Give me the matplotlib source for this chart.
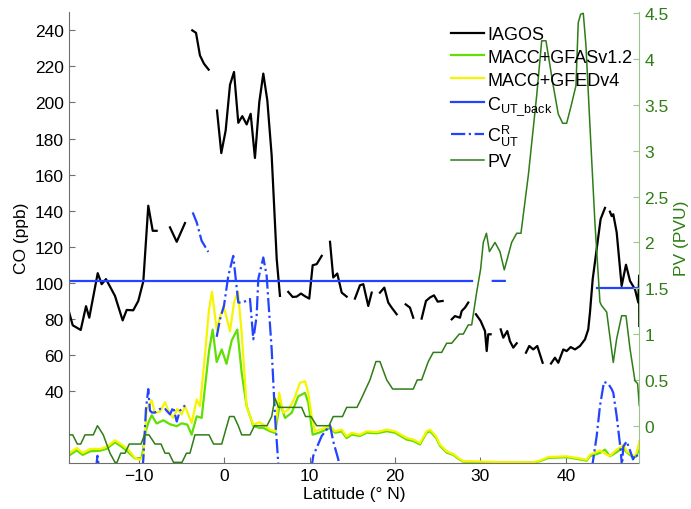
import numpy as np
import matplotlib
matplotlib.use('Agg')
import matplotlib.pyplot as plt
from matplotlib.ticker import FormatStrFormatter

plt.rcParams['font.family'] = ['Liberation Sans', 'DejaVu Sans']
plt.rcParams['mathtext.fontset'] = 'custom'
plt.rcParams['mathtext.rm'] = 'Liberation Sans'
plt.rcParams['mathtext.default'] = 'regular'

FS = 12.5
nan = np.nan

C_IAGOS = 'black'
C_GFAS = '#5fe000'
C_GFED = '#f5f500'
C_BLUE = '#2243ff'
C_PV = '#2e7d16'
C_PVAX = '#9dc48e'
C_GRAY = '#6e6e6e'

# IAGOS CO (ppb) along latitude, gaps where no data
iagos_lat = [-18.19, -17.75, -16.81, -16.19, -15.81, -14.82, -14.36, -13.85, -12.80, -11.90,
             -11.43, -10.66, -10.07, -9.48, -8.90, -8.38, -7.92, nan,
             -6.36, -5.57, -4.60, nan,
             -3.75, -3.31, -2.85, -2.38, -1.83, nan,
             -0.85, -0.35, 0.16, 0.67, 1.14, 1.64, 2.11, 2.62, 3.09, 3.59, 4.10, 4.57, 5.04,
             5.55, 6.14, 6.52, nan,
             7.49, 8.01, 8.48, 8.98, 9.45, 9.95, 10.35, 10.82, 11.41, nan,
             12.38, 12.76, 13.23, 13.75, 14.33, nan,
             15.30, 15.89, 16.28, 16.86, 17.26, nan,
             18.23, 18.74, 19.20, 19.60, 20.19, nan,
             21.24, 21.74, 22.13, nan,
             23.11, 23.62, 24.09, 24.56, 24.99, 25.57, nan,
             26.63, 27.01, 27.60, 27.80, 28.19, 28.57, nan,
             29.47, 30.02, 30.53, 30.73, 30.91, 31.19, nan,
             32.37, 32.67, 33.14, 33.45, 33.84, 34.24, nan,
             35.33, 35.71, 36.18, 36.65, 37.28, nan,
             38.26, 38.72, 39.11, 39.70, 40.09, 40.56, 41.07, 41.65, 42.24, 42.62, 42.82,
             43.14, 43.61, 44.07, 44.58, nan,
             45.16, 45.36, 45.55, 45.95, 46.53, 47.04, 47.51, 48.09, 48.48, 48.58, 48.60]
iagos_co = [84, 76.4, 73.8, 87, 80.6, 105.3, 99.2, 102, 92.7, 79.1,
            84.9, 84.7, 89.9, 100.8, 142.7, 128.8, 128.8, nan,
            130.7, 122.7, 133.1, nan,
            240, 238.6, 226.1, 221.5, 218.2, nan,
            195.5, 171.9, 184.4, 209.8, 216.9, 188.7, 192.4, 187.8, 193.7, 169.2, 200.2, 216, 201.1,
            170.5, 113.1, 92.7, nan,
            94.9, 92.1, 92.3, 94, 92.5, 91.2, 109.7, 110.3, 114.9, nan,
            122.7, 102.9, 105.1, 94.5, 92.3, nan,
            91.2, 98.6, 99.2, 87.1, 94.5, nan,
            94.5, 97.3, 89, 86.2, 82.5, nan,
            88, 86.2, 80.6, nan,
            80.1, 89.9, 91.8, 93, 89.5, 89.9, nan,
            79.7, 81.5, 80.6, 84.3, 86.2, 89, nan,
            82.5, 78.8, 73.2, 62.1, 71.4, 71.4, nan,
            74.1, 69.5, 73.2, 67.6, 64, 66.4, nan,
            61.2, 64.9, 63, 64.9, 55.6, nan,
            55.2, 58.4, 55.6, 63, 62.1, 64.3, 63, 64.9, 68.6, 74.1, 83.4,
            101.9, 118.7, 135.3, 141.5, nan,
            139.4, 137, 138, 127.9, 98.2, 110, 101, 96.4, 89, 104, 76]

# MACC + GFASv1.2
gfas_lat = [-18.22, -17.28, -16.58, -15.69, -14.56, -13.77, -12.80, -12.01, -11.24, -10.45,
            -9.67, -9.17, -8.90, -8.50, -7.92, -7.14, -6.36, -5.57, -4.99, -4.33,
            -3.82, -3.23, -2.65, -2.26, -1.79, -1.36, -0.89, -0.30, 0.26, 0.87,
            1.52, 2.04, 2.62, 3.40, 4.10, 4.57, 5.35, 5.94, 6.52, 7.11,
            7.89, 8.67, 9.45, 9.84, 10.35, 11.21, 12.38, 12.96, 13.75, 14.33,
            14.92, 15.89, 16.67, 17.85, 19.02, 19.99, 21.36, 22.13, 22.92, 23.70,
            24.09, 24.79, 25.26, 26.04, 26.81, 27.37, 27.99, 29.94, 32.28, 36.18,
            36.97, 37.94, 40.09, 41.26, 42.44, 42.82, 43.99, 44.58, 45.16, 45.95,
            46.33, 46.72, 47.12, 47.89, 48.21, 48.60]
gfas_co = [4.0, 7.0, 4.5, 6.5, 6.8, 7.9, 11.5, 9.0, 6.0, 2.5,
           2.8, 18, 22.2, 26.5, 21.9, 23.7, 21.5, 20.4, 22.0, 21.3,
           15.7, 25.9, 25.0, 42, 62, 74, 56, 63, 55, 68,
           74, 50, 31.5, 20.5, 19.5, 19.5, 17.6, 16.7, 33.4, 25.0,
           27.8, 37.0, 38.9, 33.4, 15.7, 17.0, 19.5, 16.8, 17.5, 13.8,
           15.8, 15.0, 16.8, 16.5, 17.6, 16.8, 13.0, 12.2, 10.3, 16.8,
           17.6, 14.0, 9.5, 5.8, 4.5, 2.5, 0.7, 0.5, 0.3, 0.3,
           1.0, 2.8, 3.2, 2.3, 1.3, 3.8, 5.6, 7.4, 3.7, 6.0,
           7.4, 8.0, 6.0, 3.0, 3.5, 7.4]

# MACC + GFEDv4
gfed_lat = [-18.22, -17.28, -16.58, -15.69, -14.56, -13.77, -12.80, -12.01, -11.24, -10.45,
            -9.87, -9.48, -9.09, -8.50, -8.11, -7.53, -6.94, -6.44, -5.97, -5.50,
            -4.99, -4.60, -3.82, -3.23, -2.85, -2.26, -1.79, -1.44, -0.89, -0.50,
            -0.09, 0.26, 0.67, 1.14, 1.60, 2.04, 2.62, 3.40, 4.10, 4.77,
            5.35, 5.94, 6.44, 6.91, 7.49, 8.16, 8.86, 9.45, 9.84, 10.23,
            10.62, 11.21, 12.38, 12.96, 13.75, 14.33, 14.92, 15.89, 16.67, 17.85,
            19.02, 19.99, 21.36, 22.13, 22.92, 23.70, 24.09, 24.79, 25.26, 26.04,
            26.81, 27.37, 27.99, 29.94, 32.28, 36.18, 36.97, 37.94, 40.09, 41.26,
            42.44, 42.82, 43.99, 44.78, 45.16, 45.95, 46.53, 46.72, 47.12, 47.89,
            48.21, 48.60]
gfed_co = [5.2, 8.3, 5.6, 7.8, 7.8, 8.9, 12.6, 10.2, 7.4, 2.8,
           1.8, 3.7, 29.6, 34.8, 27.8, 28.5, 33.7, 27.8, 25.0, 30.0,
           26.9, 31.5, 22.2, 35.2, 31.5, 60, 85, 95, 74, 81,
           87, 81, 73, 89, 95, 72, 31, 21.3, 22.6, 20.7,
           18.5, 17.6, 38.9, 27.8, 29.6, 35.2, 44.5, 45.4, 38.9, 25.9,
           17.6, 18.5, 20.4, 17.6, 18.5, 14.8, 16.7, 15.7, 17.6, 17.2,
           18.5, 17.6, 13.9, 13.0, 11.1, 17.6, 18.5, 14.8, 10.2, 6.5,
           5.0, 3.0, 1.0, 0.8, 0.5, 0.4, 1.4, 3.3, 3.7, 2.8,
           1.8, 4.6, 7.0, 4.6, 4.0, 7.4, 9.0, 10.2, 6.5, 4.0,
           4.5, 12.0]

# background UT CO
back_lat = [-18.22, 28.97, nan, 43.61, 48.60]
back_co = [101, 101, nan, 96.8, 96.8]

# residual CO (C^R_UT), only positive parts visible
cr_lat = [-15.02, -14.85, -14.67, nan,
          -9.58, -9.48, -9.17, -8.90, -8.70, -8.47, -8.11, -7.53, -6.94, -6.36, -5.97, -5.57,
          -5.19, -4.60, nan,
          -3.70, -3.23, -2.65, -1.87, nan,
          -0.89, -0.50, -0.04, 0.47, 1.05, 1.64, 2.04, 2.62, 3.01, 3.40, 3.79, 3.98, 4.57,
          4.96, 5.55, 5.94, 6.32, 6.50, nan,
          10.20, 10.42, 11.41, 12.38, 12.76, 13.35, 13.55, nan,
          31.31, 33.26, nan,
          42.82, 43.14, 43.61, 43.99, 44.46, 44.96, 45.36, 45.55, 45.95, 46.42, 46.57,
          46.72, 47.12, 47.51, 47.86, 48.21, 48.56]
cr_co = [-3, 4, -3, nan,
         -3, 2, 30, 41, 29, 28, 28, 30, 30, 27, 31, 23,
         29, 32, nan,
         139, 133.5, 123.2, 117.1, nan,
         70, 79.7, 87.1, 103.8, 114.9, 89, 89, 90, 91, 68.6, 81.5, 102, 114,
         104, 63, 26, 0, -10, nan,
         -3, 4, 15, 21, 12, 2, -3, nan,
         101, 101, nan,
         -3, 0, 15, 31.5, 45, 44, 41, 39, 26, 7, -2,
         9, 12, 7, 2, 5, 2]

# potential vorticity (PVU)
pv_lat = [-18.22, -17.75, -17.21, -16.81, -16.31, -15.34, -14.85, -14.17, -13.38, -12.80,
          -12.56, -12.13, -11.63, -11.12, -9.75, -9.34, -8.82, -8.11, -7.41, -6.94,
          -6.47, -5.95, -4.95, -4.43, -4.02, -3.43, -1.79, -1.26, -0.30, 0.61,
          1.14, 1.64, 2.04, 3.01, 3.54, 5.00, 5.55, 5.94, 6.35, 9.06,
          9.51, 10.15, 10.82, 12.26, 12.76, 13.84, 14.33, 15.54, 16.07, 17.06,
          17.76, 18.23, 19.02, 19.72, 22.13, 22.60, 23.11, 23.89, 24.47, 25.46,
          26.04, 26.63, 27.52, 27.99, 28.57, 28.97, 29.56, 30.02, 30.33, 30.70,
          31.05, 31.70, 32.28, 32.79, 33.65, 34.24, 34.74, 35.60, 36.58, 37.17,
          37.67, 38.52, 39.11, 39.63, 40.09, 40.56, 41.18, 41.45, 41.73, 42.04,
          42.35, 42.82, 43.41, 43.99, 44.19, 44.78, 45.55, 45.95, 46.53, 47.04,
          47.51, 48.09, 48.40, 48.60]
pv = [-0.1, -0.1, -0.2, -0.2, -0.1, -0.1, 0.0, -0.1, -0.3, -0.4,
      -0.4, -0.3, -0.3, -0.2, -0.2, -0.1, -0.1, -0.2, -0.2, -0.3,
      -0.3, -0.4, -0.4, -0.3, -0.3, -0.1, -0.1, -0.2, -0.2, 0.1,
      0.1, 0.0, -0.1, -0.1, 0.0, 0.0, 0.1, 0.3, 0.2, 0.2,
      0.1, 0.1, 0.0, 0.0, 0.1, 0.1, 0.2, 0.2, 0.3, 0.5,
      0.7, 0.7, 0.5, 0.4, 0.4, 0.5, 0.5, 0.7, 0.8, 0.8,
      0.9, 0.9, 1.0, 1.0, 1.1, 1.1, 1.46, 1.71, 2.0, 2.1,
      1.9, 2.0, 1.9, 1.7, 2.0, 2.1, 2.1, 2.73, 3.6, 4.2,
      4.2, 3.71, 3.4, 3.3, 3.3, 3.47, 3.71, 4.4, 4.49, 4.5,
      4.15, 3.27, 2.2, 1.35, 1.31, 1.24, 0.69, 0.95, 1.2, 1.2,
      0.84, 0.49, 0.46, 0.22]

fig = plt.figure(figsize=(6.91, 5.10), dpi=100)
ax = fig.add_axes([0.0994, 0.0902, 0.8258, 0.8837])

ax.plot(iagos_lat, iagos_co, color=C_IAGOS, lw=1.6, label='IAGOS')
ax.plot(gfas_lat, gfas_co, color=C_GFAS, lw=1.6, label='MACC+GFASv1.2')
ax.plot(gfed_lat, gfed_co, color=C_GFED, lw=1.6, label='MACC+GFEDv4')
ax.plot(back_lat, back_co, color=C_BLUE, lw=1.6, label=r'C$_{UT\_back}$')
ax.plot(cr_lat, cr_co, color=C_BLUE, lw=1.6, ls='-.', label=r'C$^{R}_{UT}$')

ax.set_xlim(-18.22, 48.6)
ax.set_ylim(0, 250)
ax.set_xticks([-10, 0, 10, 20, 30, 40])
ax.set_yticks(range(40, 241, 20))
ax.set_xlabel('Latitude (\u00b0 N)', fontsize=FS, labelpad=2)
ax.set_ylabel('CO (ppb)', fontsize=FS, labelpad=4)
ax.tick_params(direction='in', length=4, color=C_GRAY, labelsize=FS)
ax.spines['top'].set_visible(False)
ax.spines['right'].set_visible(False)
for s in ['left', 'bottom']:
    ax.spines[s].set_color(C_GRAY)

ax2 = ax.twinx()
ax2.plot(pv_lat, pv, color=C_PV, lw=1.1, label='PV')
ax2.set_ylim(-0.407, 4.511)
ax2.set_yticks(np.arange(0, 4.51, 0.5))
ax2.yaxis.set_major_formatter(FormatStrFormatter('%g'))
ax2.tick_params(direction='in', length=4, color=C_PVAX, labelcolor=C_PV, labelsize=FS)
ax2.set_ylabel('PV (PVU)', fontsize=FS, color=C_PV, labelpad=4)
for s in ['top', 'left', 'bottom']:
    ax2.spines[s].set_visible(False)
ax2.spines['right'].set_color(C_PVAX)

h1, l1 = ax.get_legend_handles_labels()
h2, l2 = ax2.get_legend_handles_labels()
ax2.legend(h1 + h2, l1 + l2, loc='upper left', bbox_to_anchor=(442 / 691, 1 - 18 / 510),
           bbox_transform=fig.transFigure, frameon=False, fontsize=13, borderpad=0,
           handlelength=1.8, handletextpad=0.2, labelspacing=0.32)

fig.savefig('out.png', dpi=100)
